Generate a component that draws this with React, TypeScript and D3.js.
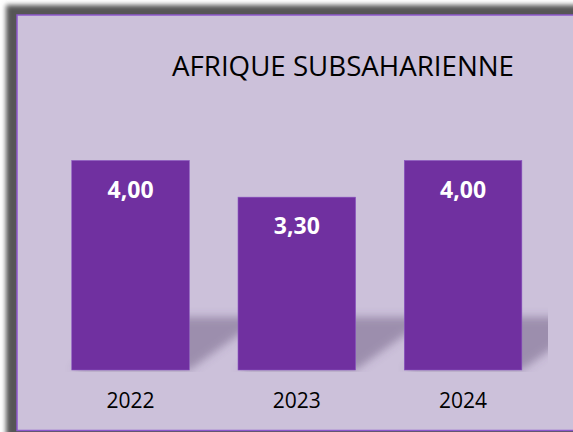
import React from "react";
import * as d3 from "d3";

const title = "AFRIQUE SUBSAHARIENNE";
const categories = ["2022", "2023", "2024"];
const values = [4.0, 3.3, 4.0];
const valueLabels = ["4,00", "3,30", "4,00"];

const W = 573;
const H = 432;

export default function App() {
  const x = d3
    .scaleBand<string>()
    .domain(categories)
    .range([47.4, 546.2])
    .paddingInner(0.293)
    .paddingOuter(0.1465);
  const y = d3.scaleLinear().domain([0, 4]).range([370, 160.5]);
  const bw = x.bandwidth();
  const base = y(0);
  const shadowTop = 317;
  const skew = (base - shadowTop) * 1.4;

  return (
    <svg
      width={W}
      height={H}
      style={{ position: "absolute", left: 0, top: 0, display: "block" }}
      xmlns="http://www.w3.org/2000/svg"
    >
      <defs>
        <filter id="frameBlur" x="-10%" y="-10%" width="120%" height="120%">
          <feGaussianBlur stdDeviation="2.6" />
        </filter>
        <filter id="shBlur" x="-30%" y="-30%" width="160%" height="160%">
          <feGaussianBlur stdDeviation="4" />
        </filter>
        <clipPath id="plotClip">
          <rect x={47} y={100} width={501} height={272} />
        </clipPath>
      </defs>
      <rect x={0} y={0} width={W} height={H} fill="#ffffff" />
      <rect
        x={6}
        y={5}
        width={W + 40}
        height={H + 40}
        fill="#575757"
        filter="url(#frameBlur)"
      />
      <rect
        x={17}
        y={15}
        width={W + 40}
        height={415.5}
        fill="#CCC1DA"
        stroke="#8d58cc"
        strokeWidth={1.5}
      />
      <text
        x={343}
        y={75.5}
        textAnchor="middle"
        fontFamily="'Open Sans', sans-serif"
        fontSize={27.5}
        fill="#000000"
        textLength={342}
        lengthAdjust="spacingAndGlyphs"
      >
        {title}
      </text>
      <g clipPath="url(#plotClip)">
        {categories.map((c, i) => {
          const x0 = x(c)!;
          const x1 = x0 + bw;
          const pts = [
            [x0, base],
            [x1, base],
            [x1 + skew, shadowTop],
            [x0 + skew, shadowTop],
          ];
          return (
            <polygon
              key={"s" + c}
              points={pts.map((p) => p.join(",")).join(" ")}
              fill="#5b4a70"
              fillOpacity={0.42}
              filter="url(#shBlur)"
            />
          );
        })}
      </g>
      {categories.map((c, i) => (
        <rect
          key={"b" + c}
          x={x(c)!}
          y={y(values[i])}
          width={bw}
          height={base - y(values[i])}
          fill="#7030A0"
          stroke="#8a55c0"
          strokeWidth={0.6}
        />
      ))}
      {categories.map((c, i) => (
        <text
          key={"v" + c}
          x={x(c)! + bw / 2}
          y={y(values[i]) + 37}
          textAnchor="middle"
          fontFamily="'Open Sans', sans-serif"
          fontWeight="bold"
          fontSize={23}
          fill="#ffffff"
        >
          {valueLabels[i]}
        </text>
      ))}
      {categories.map((c) => (
        <text
          key={"c" + c}
          x={x(c)! + bw / 2}
          y={408}
          textAnchor="middle"
          fontFamily="'Open Sans', sans-serif"
          fontSize={21}
          fill="#000000"
        >
          {c}
        </text>
      ))}
    </svg>
  );
}
